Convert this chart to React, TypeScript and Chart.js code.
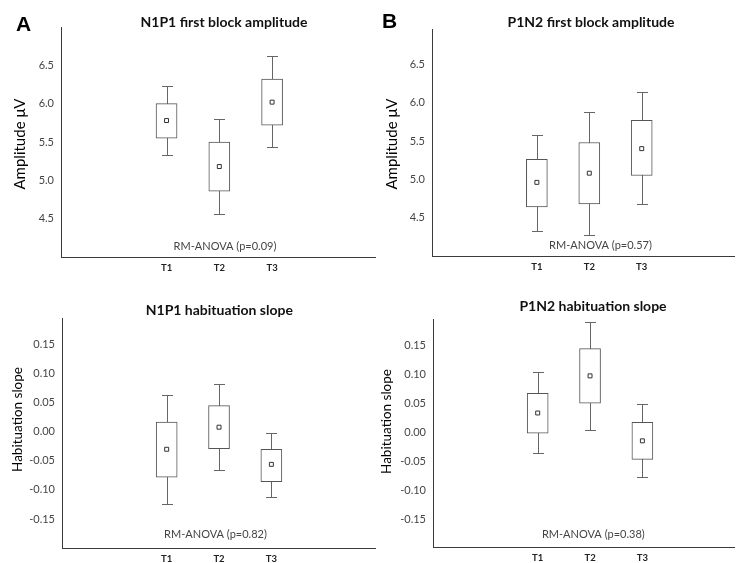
import React, { useEffect, useRef } from "react";
import { Chart, registerables } from "chart.js";

Chart.register(...registerables);

// ---------- data ----------
const TIMES = ["T1", "T2", "T3"];

const AMP_TICKS = [4.5, 5.0, 5.5, 6.0, 6.5];
const SLOPE_TICKS = [-0.15, -0.1, -0.05, 0, 0.05, 0.1, 0.15];

// N1P1 first block amplitude
const N1P1_AMP_LOW = [5.33, 4.56, 5.43];
const N1P1_AMP_Q1 = [5.55, 4.86, 5.72];
const N1P1_AMP_MEAN = [5.78, 5.18, 6.02];
const N1P1_AMP_Q3 = [6.0, 5.5, 6.32];
const N1P1_AMP_HIGH = [6.23, 5.8, 6.62];

// P1N2 first block amplitude
const P1N2_AMP_LOW = [4.33, 4.28, 4.68];
const P1N2_AMP_Q1 = [4.64, 4.68, 5.05];
const P1N2_AMP_MEAN = [4.96, 5.08, 5.4];
const P1N2_AMP_Q3 = [5.26, 5.48, 5.77];
const P1N2_AMP_HIGH = [5.58, 5.88, 6.14];

// N1P1 habituation slope
const N1P1_SLOPE_LOW = [-0.125, -0.066, -0.112];
const N1P1_SLOPE_Q1 = [-0.078, -0.029, -0.086];
const N1P1_SLOPE_MEAN = [-0.03, 0.008, -0.056];
const N1P1_SLOPE_Q3 = [0.017, 0.045, -0.03];
const N1P1_SLOPE_HIGH = [0.064, 0.082, -0.002];

// P1N2 habituation slope
const P1N2_SLOPE_LOW = [-0.036, 0.003, -0.078];
const P1N2_SLOPE_Q1 = [-0.002, 0.05, -0.047];
const P1N2_SLOPE_MEAN = [0.033, 0.097, -0.015];
const P1N2_SLOPE_Q3 = [0.067, 0.144, 0.017];
const P1N2_SLOPE_HIGH = [0.103, 0.19, 0.048];

const P_VALUES = ["0.09", "0.57", "0.82", "0.38"];

const FONT = "Lato, 'Open Sans', sans-serif";

type Panel = {
  left: number; top: number; w: number; h: number;
  areaLeft: number; areaRight: number; areaTop: number; areaBottom: number;
  yMin: number; yMax: number; xMax: number;
  ticks: number[]; decimals: number;
  low: number[]; q1: number[]; mean: number[]; q3: number[]; high: number[];
  title: string; titleX: number; titleY: number;
  letter?: string; letterX?: number; letterY?: number;
  yTitle: string; yTitleX: number; yTitleY: number; yTitleSize: number;
  note: string; noteX: number; noteY: number;
};

const PANELS: Panel[] = [
  {
    left: 0, top: 0, w: 380, h: 280,
    areaLeft: 61, areaRight: 378, areaTop: 27, areaBottom: 257,
    yMin: 4.0, yMax: 7.0, xMax: 4.95, ticks: AMP_TICKS, decimals: 1,
    low: N1P1_AMP_LOW, q1: N1P1_AMP_Q1, mean: N1P1_AMP_MEAN, q3: N1P1_AMP_Q3, high: N1P1_AMP_HIGH,
    title: "N1P1 first block amplitude", titleX: 224, titleY: 27,
    letter: "A", letterX: 16, letterY: 31,
    yTitle: "Amplitude \u03bcV", yTitleX: 25, yTitleY: 144, yTitleSize: 15,
    note: `RM-ANOVA (p=${P_VALUES[0]})`, noteX: 225, noteY: 249.5,
  },
  {
    left: 370, top: 0, w: 369, h: 280,
    areaLeft: 62, areaRight: 369, areaTop: 29, areaBottom: 256,
    yMin: 4.0, yMax: 6.96, xMax: 4.76, ticks: AMP_TICKS, decimals: 1,
    low: P1N2_AMP_LOW, q1: P1N2_AMP_Q1, mean: P1N2_AMP_MEAN, q3: P1N2_AMP_Q3, high: P1N2_AMP_HIGH,
    title: "P1N2 first block amplitude", titleX: 221, titleY: 27,
    letter: "B", letterX: 12, letterY: 28,
    yTitle: "Amplitude \u03bcV", yTitleX: 26.7, yTitleY: 144, yTitleSize: 15,
    note: `RM-ANOVA (p=${P_VALUES[1]})`, noteX: 230.5, noteY: 249,
  },
  {
    left: 0, top: 280, w: 380, h: 283,
    areaLeft: 62, areaRight: 378, areaTop: 38, areaBottom: 268,
    yMin: -0.2, yMax: 0.196, xMax: 4.98, ticks: SLOPE_TICKS, decimals: 2,
    low: N1P1_SLOPE_LOW, q1: N1P1_SLOPE_Q1, mean: N1P1_SLOPE_MEAN, q3: N1P1_SLOPE_Q3, high: N1P1_SLOPE_HIGH,
    title: "N1P1 habituation slope", titleX: 219.3, titleY: 35,
    yTitle: "Habituation slope", yTitleX: 21.7, yTitleY: 139.5, yTitleSize: 13.5,
    note: `RM-ANOVA (p=${P_VALUES[2]})`, noteX: 215.5, noteY: 257.7,
  },
  {
    left: 370, top: 280, w: 369, h: 283,
    areaLeft: 63, areaRight: 369, areaTop: 39, areaBottom: 267,
    yMin: -0.198, yMax: 0.195, xMax: 4.75, ticks: SLOPE_TICKS, decimals: 2,
    low: P1N2_SLOPE_LOW, q1: P1N2_SLOPE_Q1, mean: P1N2_SLOPE_MEAN, q3: P1N2_SLOPE_Q3, high: P1N2_SLOPE_HIGH,
    title: "P1N2 habituation slope", titleX: 223, titleY: 30.7,
    yTitle: "Habituation slope", yTitleX: 20.7, yTitleY: 141.5, yTitleSize: 13.5,
    note: `RM-ANOVA (p=${P_VALUES[3]})`, noteX: 223.3, noteY: 257.7,
  },
];

const AXIS_COLOR = "#3a3a3a";

function BoxPanel({ p }: { p: Panel }) {
  const ref = useRef<HTMLCanvasElement | null>(null);

  useEffect(() => {
    const canvas = ref.current;
    if (!canvas) return;

    const decorPlugin = {
      id: "boxDecor",
      beforeDatasetsDraw(chart: any) {
        const { ctx } = chart;
        const xs = chart.scales.x;
        const ys = chart.scales.y;
        ctx.save();
        ctx.strokeStyle = "#666";
        ctx.lineWidth = 1;
        TIMES.forEach((_, i) => {
          const x = Math.round(xs.getPixelForValue(i + 1)) + 0.5;
          const yl = Math.round(ys.getPixelForValue(p.low[i])) + 0.5;
          const yh = Math.round(ys.getPixelForValue(p.high[i])) + 0.5;
          ctx.beginPath();
          ctx.moveTo(x, yl);
          ctx.lineTo(x, yh);
          ctx.moveTo(x - 5.5, yl);
          ctx.lineTo(x + 5.5, yl);
          ctx.moveTo(x - 5.5, yh);
          ctx.lineTo(x + 5.5, yh);
          ctx.stroke();
        });
        ctx.restore();
      },
      afterDraw(chart: any) {
        const { ctx } = chart;
        ctx.save();
        // title
        ctx.fillStyle = "#111";
        ctx.font = `bold 14px ${FONT}`;
        ctx.textAlign = "center";
        ctx.textBaseline = "alphabetic";
        ctx.fillText(p.title, p.titleX, p.titleY);
        // panel letter
        if (p.letter) {
          ctx.font = `bold 21px 'Liberation Sans', Arial, sans-serif`;
          ctx.textAlign = "left";
          ctx.fillStyle = "#000";
          ctx.fillText(p.letter, p.letterX, p.letterY);
        }
        // annotation
        ctx.font = `11px ${FONT}`;
        ctx.fillStyle = "#444";
        ctx.textAlign = "center";
        ctx.fillText(p.note, p.noteX, p.noteY);
        // y title
        ctx.translate(p.yTitleX, p.yTitleY);
        ctx.rotate(-Math.PI / 2);
        ctx.font = `${p.yTitleSize}px ${FONT}`;
        ctx.fillStyle = "#000";
        ctx.textAlign = "center";
        ctx.fillText(p.yTitle, 0, 0);
        ctx.restore();
      },
    };

    const chart = new Chart(canvas, {
      type: "bar",
      data: {
        datasets: [
          {
            type: "scatter",
            order: 0,
            data: TIMES.map((_, i) => ({ x: i + 1, y: p.mean[i] })),
            pointStyle: "rect",
            pointRadius: 2.8,
            backgroundColor: "#fff",
            borderColor: "#333",
            borderWidth: 1,
          } as any,
          {
            type: "bar",
            order: 1,
            data: TIMES.map((_, i) => ({ x: i + 1, y: [p.q1[i], p.q3[i]] })),
            backgroundColor: "#fff",
            borderColor: "#555",
            borderWidth: 1,
            borderSkipped: false,
            barThickness: 21,
          } as any,
        ],
      },
      options: {
        responsive: false,
        animation: false,
        devicePixelRatio: 1,
        layout: {
          padding: { left: 0, top: p.areaTop, right: p.w - p.areaRight, bottom: 0 },
        },
        plugins: {
          legend: { display: false },
          tooltip: { enabled: false },
          title: { display: false },
        },
        scales: {
          x: {
            type: "linear",
            min: -1,
            max: p.xMax,
            offset: false,
            grid: { display: false, drawTicks: false },
            border: { display: true, color: AXIS_COLOR, width: 1 },
            ticks: {
              autoSkip: false,
              maxRotation: 0,
              padding: 5,
              color: "#222",
              font: { family: FONT, size: 9.5, weight: "bold" },
              callback: (v: any) => TIMES[Number(v) - 1] ?? "",
            },
            afterBuildTicks: (s: any) => {
              s.ticks = TIMES.map((_, i) => ({ value: i + 1 }));
            },
            afterFit: (s: any) => {
              s.height = p.h - p.areaBottom;
            },
          },
          y: {
            type: "linear",
            min: p.yMin,
            max: p.yMax,
            beginAtZero: false,
            grid: { display: false, drawTicks: false },
            border: { display: true, color: AXIS_COLOR, width: 1 },
            ticks: {
              padding: 7,
              color: "#444",
              font: { family: FONT, size: 11 },
              callback: (v: any) => Number(v).toFixed(p.decimals),
            },
            afterBuildTicks: (s: any) => {
              s.ticks = p.ticks.map((value) => ({ value }));
            },
            afterFit: (s: any) => {
              s.width = p.areaLeft;
            },
          },
        },
      } as any,
      plugins: [decorPlugin],
    });

    return () => chart.destroy();
  }, [p]);

  return (
    <canvas
      ref={ref}
      width={p.w}
      height={p.h}
      style={{ position: "absolute", left: p.left, top: p.top, width: p.w, height: p.h }}
    />
  );
}

export default function App() {
  return (
    <div
      style={{
        position: "absolute",
        left: 0,
        top: 0,
        width: 739,
        height: 563,
        background: "#fff",
        overflow: "hidden",
      }}
    >
      {PANELS.map((p, i) => (
        <BoxPanel key={i} p={p} />
      ))}
    </div>
  );
}
